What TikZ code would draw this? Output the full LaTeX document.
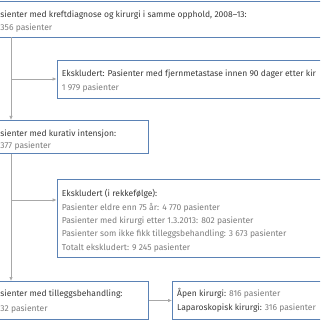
\documentclass[tikz,border=0pt]{standalone}
\usepackage{fontspec}
\setmainfont{Fira Sans}
\usetikzlibrary{arrows.meta}
\definecolor{boxblue}{HTML}{5B82B5}
\definecolor{conngray}{HTML}{A8A8A8}
\definecolor{darktxt}{HTML}{3A3A3A}
\definecolor{lighttxt}{HTML}{7C7C7C}
\newbox\measbox
\setbox\measbox\hbox{\fontsize{10}{12}\selectfont Pasienter som ikke fikk tilleggsbehandling: 3 673 pasienter}
\pgfmathsetmacro\fsz{10*224.5/\the\wd\measbox}
\tikzset{
  box/.style={draw=boxblue, line width=0.9pt, fill=white, inner sep=0pt, anchor=north west},
  conn/.style={draw=conngray, line width=0.7pt, -{Latex[length=4pt,width=3.4pt]}},
  dtxt/.style={text=darktxt, font=\fontsize{\fsz}{12}\selectfont, inner sep=0pt, anchor=base west},
  ltxt/.style={text=lighttxt, font=\fontsize{\fsz}{12}\selectfont, inner sep=0pt, anchor=base west}
}
\begin{document}
\begin{tikzpicture}[x=1pt,y=-1pt]
\useasboundingbox (0,0) rectangle (320,320);
\clip (0,0) rectangle (320,320);
\fill[white] (0,0) rectangle (320,320);
% boxes
\node[box, minimum width=340pt, minimum height=36pt] (top) at (-10,0.6) {};
\node[box, minimum width=280pt, minimum height=37.7pt] (ex1) at (56.7,60) {};
\node[box, minimum width=158pt, minimum height=33pt] (kur) at (-10,120) {};
\node[box, minimum width=280pt, minimum height=77.7pt] (ex2) at (56.7,179) {};
\node[box, minimum width=158pt, minimum height=38pt] (till) at (-10,281) {};
\node[box, minimum width=160pt, minimum height=38pt] (kir) at (172,281) {};
% texts
\node[dtxt] (t1) at (0.3,17.8) {sienter med kreftdiagnose og kirurgi i samme opphold, 2008–13:};
\node[ltxt] (t2) at (0.3,30.5) {356 pasienter};
\node[dtxt] (t3) at (61.7,76.6) {Ekskludert: Pasienter med fjernmetastase innen 90 dager etter kir};
\node[ltxt] (t4) at (61.7,91) {1 979 pasienter};
\node[dtxt] (t5) at (0.3,136.6) {sienter med kurativ intensjon:};
\node[ltxt] (t6) at (0.3,148.3) {377 pasienter};
\node[dtxt] (t7) at (61.7,196.6) {Ekskludert (i rekkefølge):};
\node[ltxt] (t8) at (61.7,210) {Pasienter eldre enn 75 år: 4 770 pasienter};
\node[ltxt] (t9) at (61.7,223.3) {Pasienter med kirurgi etter 1.3.2013: 802 pasienter};
\node[ltxt] (t10) at (61.7,236.6) {Pasienter som ikke fikk tilleggsbehandling: 3 673 pasienter};
\node[ltxt] (t11) at (61.7,250) {Totalt ekskludert: 9 245 pasienter};
\node[dtxt] (t12) at (0.3,296) {sienter med tilleggsbehandling:};
\node[ltxt] (t13) at (0.3,311.3) {32 pasienter};
\node[dtxt] (t14) at (177,296) {Åpen kirurgi: \textcolor{lighttxt}{816 pasienter}};
\node[dtxt] (t15) at (177,310.8) {Laparoskopisk kirurgi: \textcolor{lighttxt}{316 pasienter}};
% connectors
\coordinate (vx) at (11,0);
\coordinate (j1) at (11,79);
\coordinate (j2) at (11,200);
\draw[conn] (vx |- top.south) -- (vx |- kur.north);
\draw[conn] (j1) -- (j1 -| ex1.west);
\draw[conn] (vx |- kur.south) -- (vx |- till.north);
\draw[conn] (j2) -- (j2 -| ex2.west);
\coordinate (j3) at (0,300.5);
\draw[conn] (j3 -| till.east) -- (j3 -| kir.west);
\end{tikzpicture}
\end{document}
